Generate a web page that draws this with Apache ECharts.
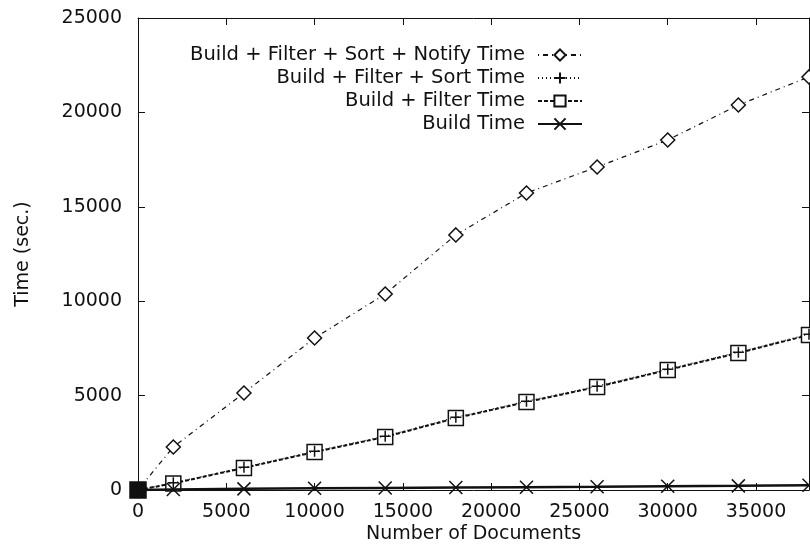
<!DOCTYPE html>
<html>
<head>
<meta charset="utf-8">
<script src="https://cdn.jsdelivr.net/npm/echarts@6/dist/echarts.min.js"></script>
<style>
  html, body { margin: 0; padding: 0; background: #fff; }
  #chart { width: 810px; height: 546px; }
</style>
</head>
<body>
<div id="chart"></div>
<script>
// data
const docs = [0, 2000, 6000, 10000, 14000, 18000, 22000, 26000, 30000, 34000, 38000];
const notifyTime = [0, 2280, 5140, 8050, 10380, 13510, 15730, 17110, 18540, 20390, 21880];
const sortTime = [0, 380, 1200, 2050, 2850, 3850, 4700, 5500, 6400, 7300, 8250];
const filterTime = [0, 350, 1170, 2010, 2810, 3810, 4660, 5460, 6360, 7260, 8210];
const buildTime = [0, 30, 60, 90, 110, 130, 150, 170, 200, 220, 250];
const seriesNames = [
  'Build + Filter + Sort + Notify Time',
  'Build + Filter + Sort Time',
  'Build + Filter Time',
  'Build Time'
];

const FONT = 'DejaVu Sans';
const INK = '#111';
const PLUS = 'path://M5,0 L5,10 M0,5 L10,5';
const CROSS = 'path://M0,0 L10,10 M10,0 L0,10';

const pairs = (ys) => docs.map((x, i) => [x, ys[i]]);
const plain = (v) => String(v);

const chart = echarts.init(document.getElementById('chart'));

const baseAxis = {
  type: 'value',
  min: 0,
  interval: 5000,
  axisLine: { show: true, onZero: false, lineStyle: { color: INK, width: 1 } },
  axisTick: { show: true, inside: true, length: 7, lineStyle: { color: INK } },
  splitLine: { show: false },
};

chart.setOption({
  animation: false,
  textStyle: { fontFamily: FONT, color: INK },
  grid: { left: 138, right: 1, top: 18, bottom: 56, containLabel: false, outerBoundsMode: 'none' },
  legend: {
    orient: 'vertical',
    right: 222,
    top: 40,
    align: 'right',
    itemWidth: 44,
    itemHeight: 14,
    itemGap: 3,
    textStyle: { fontFamily: FONT, fontSize: 19.5, color: INK, padding: [0, 8, 0, 0] },
    data: seriesNames,
  },
  xAxis: [
    Object.assign({}, baseAxis, {
      max: 38000,
      position: 'bottom',
      name: 'Number of Documents',
      nameLocation: 'middle',
      nameGap: 35,
      nameMoveOverlap: false,
      nameTextStyle: { fontFamily: FONT, fontSize: 19, color: INK },
      axisLabel: { fontFamily: FONT, fontSize: 19, color: INK, margin: 13, showMaxLabel: false, formatter: plain },
    }),
    Object.assign({}, baseAxis, {
      max: 38000,
      position: 'top',
      axisLabel: { show: false },
    }),
  ],
  yAxis: [
    Object.assign({}, baseAxis, {
      max: 25000,
      position: 'left',
      name: 'Time (sec.)',
      nameLocation: 'middle',
      nameGap: 105,
      nameTextStyle: { fontFamily: FONT, fontSize: 19, color: INK },
      axisLabel: { fontFamily: FONT, fontSize: 19, color: INK, margin: 16, formatter: plain },
    }),
    Object.assign({}, baseAxis, {
      max: 25000,
      position: 'right',
      axisLabel: { show: false },
    }),
  ],
  series: [
    {
      name: seriesNames[0],
      type: 'line',
      data: pairs(notifyTime),
      symbol: 'diamond',
      symbolSize: 14,
      lineStyle: { color: INK, width: 1.2, type: [1, 4, 5, 4] },
      itemStyle: { color: '#fff', borderColor: INK, borderWidth: 1.5 },
      z: 3,
    },
    {
      name: seriesNames[1],
      type: 'line',
      data: pairs(sortTime),
      symbol: PLUS,
      symbolSize: 11,
      lineStyle: { color: INK, width: 1.2, type: [1, 3] },
      itemStyle: { color: 'none', borderColor: INK, borderWidth: 1.5 },
      z: 5,
    },
    {
      name: seriesNames[2],
      type: 'line',
      data: pairs(filterTime).map((p, i) => i === 0
        ? { value: p, symbolSize: 16, itemStyle: { color: INK } }
        : p),
      symbol: 'rect',
      symbolSize: 15,
      lineStyle: { color: INK, width: 2, type: [4, 2] },
      itemStyle: { color: '#fff', borderColor: INK, borderWidth: 1.5 },
      z: 4,
    },
    {
      name: seriesNames[3],
      type: 'line',
      data: pairs(buildTime),
      symbol: CROSS,
      symbolSize: 13,
      lineStyle: { color: INK, width: 2.5 },
      itemStyle: { color: 'none', borderColor: INK, borderWidth: 1.5 },
      z: 6,
    },
  ],
});
</script>
</body>
</html>
